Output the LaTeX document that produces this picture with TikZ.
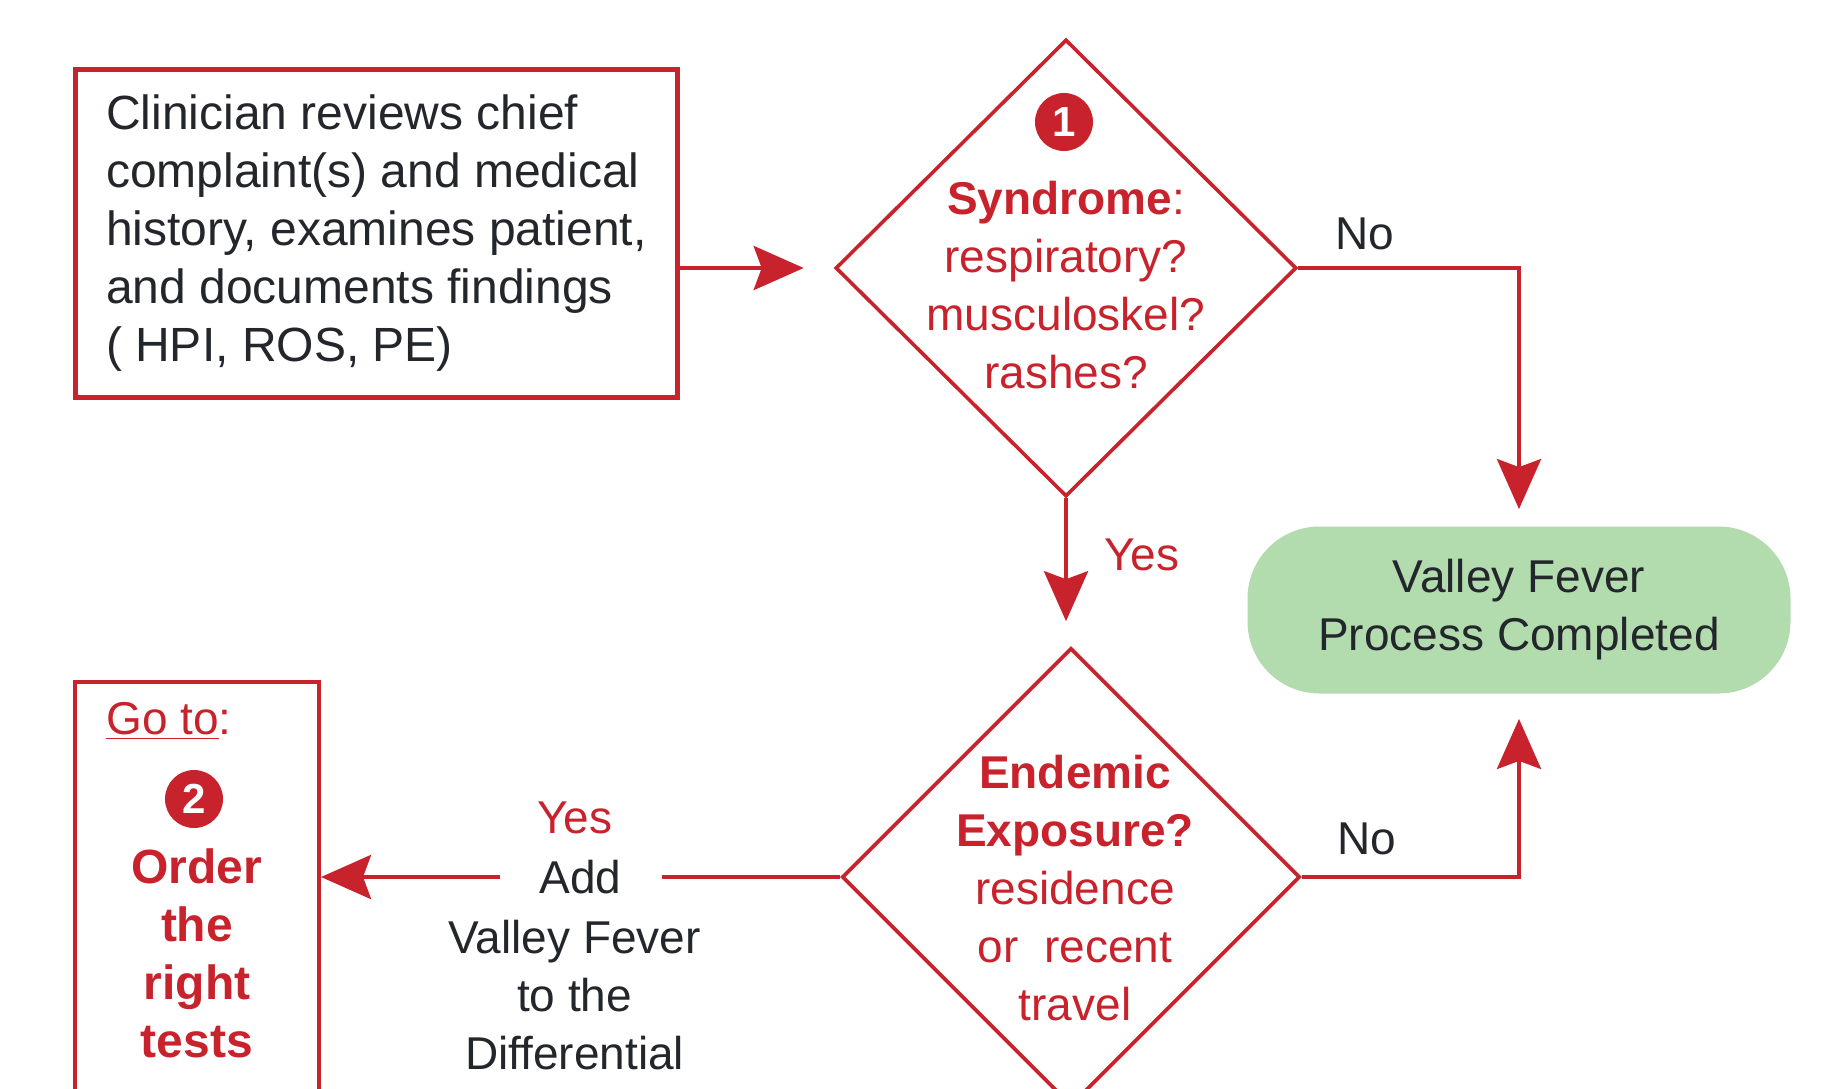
\documentclass[tikz,border=0pt]{standalone}
\usepackage{fontspec}
\setmainfont{Liberation Sans}
\usepackage{xcolor}
\usetikzlibrary{arrows.meta,positioning,shapes.geometric}
\definecolor{vfred}{HTML}{C8232C}
\definecolor{ink}{HTML}{23262B}
\definecolor{leaf}{HTML}{B2DBAE}
\tikzset{
  box/.style={rectangle, draw=vfred, fill=white, line width=2.4pt, inner sep=0pt},
  decision/.style={diamond, draw=vfred, fill=white, line width=1.8pt, inner sep=0pt},
  endbox/.style={rectangle, rounded corners=36pt, fill=leaf, draw=none, minimum width=271.5pt,
              minimum height=83.5pt, align=center, text=ink, font=\fontsize{23}{29}\selectfont},
  numdot/.style={circle, fill=vfred, text=white, inner sep=0pt, minimum size=29pt,
              font=\fontsize{21}{21}\selectfont\bfseries},
  qtext/.style={align=center, text=vfred, inner sep=0pt, font=\fontsize{23}{29}\selectfont},
  lbl/.style={inner sep=0pt, text=ink, align=center, font=\fontsize{23}{29}\selectfont},
  flow/.style={-{Stealth[length=25pt, width=22pt, inset=4pt]}, draw=vfred, line width=2.2pt},
}

\begin{document}
\begin{tikzpicture}[x=0.5pt, y=-0.5pt]
\clip (0,0) rectangle (1842,1088);
\node[box, anchor=north west, minimum width=301pt, minimum height=164pt,
      align=left, text=ink, font=\fontsize{24}{29}\selectfont] (n1) at (73,67)
 {Clinician reviews chief\\complaint(s) and medical\\history, examines patient,\\and documents findings\\( HPI, ROS, PE)};
\node[decision, minimum width=230.5pt, minimum height=228.5pt] (q1) at (1066,268) {};
\node[numdot] (num1) at (1064,122) {1};
\node[qtext] (q1txt) at (1066,285) {{\bfseries Syndrome}:\\respiratory?\\musculoskel?\\rashes?};
\node[endbox] (done) at (1519,610) {Valley Fever\\Process Completed};
\node[decision, minimum width=229pt, minimum height=229pt] (q2) at (1071,877) {};
\node[qtext] (q2txt) at (1075,888) {{\bfseries Endemic}\\{\bfseries Exposure?}\\residence\\or~~recent\\travel};
\node[box, anchor=north west, minimum width=122pt, minimum height=240pt, line width=2pt] (n2) at (73,680) {};
\node[lbl, anchor=west, text=vfred] (goto) at (106,721) {\underline{Go to}:};
\node[numdot] (num2) at (194,799) {2};
\node[qtext, font=\fontsize{24}{29}\selectfont\bfseries] (order) at (197,953) {Order\\the\\right\\tests};

\draw[flow, shorten >=15pt] (n1.east |- q1.west) -- (q1.west);
\draw[flow, shorten >=8.5pt] (q1.east) -| (done.north) node[lbl, pos=0.15, above=8pt] {No};
\draw[flow, shorten >=12.5pt] (q1.south) -- (q1.south |- q2.north)
  node[lbl, text=vfred, pos=0.38, right=18pt] {Yes};
\draw[flow, shorten >=12.5pt] (q2.east) -| (done.south) node[lbl, pos=0.15, above=10pt] {No};
\draw[flow] (q2.west) -- (q2.west -| n2.east)
  node[lbl, midway, fill=white, inner xsep=20pt] (add) {Add};
\node[lbl, text=vfred, above=12pt of add, xshift=-3pt] (yes2) {Yes};
\node[lbl, below=12pt of add, xshift=-3pt] (addtxt) {Valley Fever\\to the\\Differential};
\end{tikzpicture}
\end{document}
